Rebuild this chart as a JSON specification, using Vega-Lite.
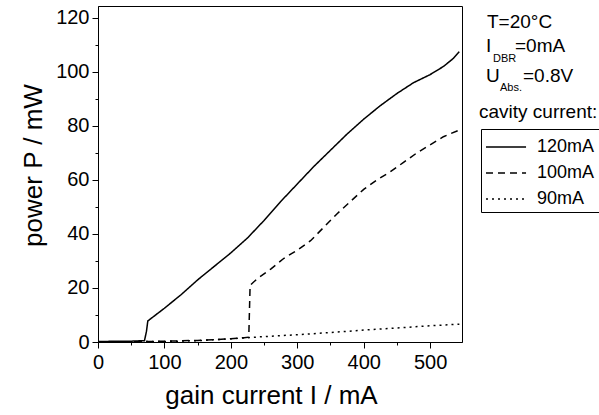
{
  "$schema": "https://vega.github.io/schema/vega-lite/v6.json",
  "autosize": "none",
  "width": 364,
  "height": 336,
  "padding": {"left": 98, "top": 6, "right": 137, "bottom": 73},
  "background": "white",
  "config": {
    "view": {"stroke": "black", "strokeWidth": 1},
    "font": "Liberation Sans",
    "axis": {"domainColor": "black", "tickColor": "black", "labelColor": "black", "titleColor": "black", "grid": false, "labelFont": "Liberation Sans", "titleFont": "Liberation Sans", "titleFontWeight": "normal", "labelFlush": false, "labelOverlap": false}
  },
  "datasets": {
    "curves": [
      {"I": 0, "P": 0.2, "cav": "120mA"},
      {"I": 50, "P": 0.3, "cav": "120mA"},
      {"I": 70, "P": 0.5, "cav": "120mA"},
      {"I": 73, "P": 4, "cav": "120mA"},
      {"I": 75, "P": 7.8, "cav": "120mA"},
      {"I": 100, "P": 12.5, "cav": "120mA"},
      {"I": 125, "P": 17.5, "cav": "120mA"},
      {"I": 150, "P": 23, "cav": "120mA"},
      {"I": 175, "P": 28, "cav": "120mA"},
      {"I": 200, "P": 33, "cav": "120mA"},
      {"I": 225, "P": 38.5, "cav": "120mA"},
      {"I": 250, "P": 45, "cav": "120mA"},
      {"I": 275, "P": 52, "cav": "120mA"},
      {"I": 300, "P": 58.5, "cav": "120mA"},
      {"I": 325, "P": 65, "cav": "120mA"},
      {"I": 350, "P": 71, "cav": "120mA"},
      {"I": 375, "P": 77, "cav": "120mA"},
      {"I": 400, "P": 82.5, "cav": "120mA"},
      {"I": 425, "P": 87.5, "cav": "120mA"},
      {"I": 450, "P": 92, "cav": "120mA"},
      {"I": 475, "P": 96, "cav": "120mA"},
      {"I": 500, "P": 99, "cav": "120mA"},
      {"I": 520, "P": 102, "cav": "120mA"},
      {"I": 535, "P": 105, "cav": "120mA"},
      {"I": 544, "P": 107.5, "cav": "120mA"},
      {"I": 0, "P": 0, "cav": "100mA"},
      {"I": 50, "P": 0.1, "cav": "100mA"},
      {"I": 100, "P": 0.3, "cav": "100mA"},
      {"I": 150, "P": 0.6, "cav": "100mA"},
      {"I": 200, "P": 1.2, "cav": "100mA"},
      {"I": 220, "P": 1.6, "cav": "100mA"},
      {"I": 227, "P": 1.8, "cav": "100mA"},
      {"I": 229, "P": 21, "cav": "100mA"},
      {"I": 240, "P": 23.5, "cav": "100mA"},
      {"I": 260, "P": 27, "cav": "100mA"},
      {"I": 280, "P": 31, "cav": "100mA"},
      {"I": 300, "P": 34, "cav": "100mA"},
      {"I": 320, "P": 37.5, "cav": "100mA"},
      {"I": 340, "P": 42.5, "cav": "100mA"},
      {"I": 360, "P": 47.5, "cav": "100mA"},
      {"I": 380, "P": 52, "cav": "100mA"},
      {"I": 400, "P": 56.5, "cav": "100mA"},
      {"I": 420, "P": 60, "cav": "100mA"},
      {"I": 440, "P": 63, "cav": "100mA"},
      {"I": 460, "P": 66.5, "cav": "100mA"},
      {"I": 480, "P": 70, "cav": "100mA"},
      {"I": 500, "P": 73, "cav": "100mA"},
      {"I": 520, "P": 76, "cav": "100mA"},
      {"I": 544, "P": 78.5, "cav": "100mA"},
      {"I": 0, "P": 0, "cav": "90mA"},
      {"I": 100, "P": 0.2, "cav": "90mA"},
      {"I": 150, "P": 0.5, "cav": "90mA"},
      {"I": 200, "P": 1.2, "cav": "90mA"},
      {"I": 250, "P": 2, "cav": "90mA"},
      {"I": 300, "P": 2.7, "cav": "90mA"},
      {"I": 350, "P": 3.5, "cav": "90mA"},
      {"I": 400, "P": 4.4, "cav": "90mA"},
      {"I": 450, "P": 5.2, "cav": "90mA"},
      {"I": 500, "P": 6, "cav": "90mA"},
      {"I": 544, "P": 6.6, "cav": "90mA"}
    ]
  },
  "layer": [
    {
      "data": {"name": "curves"},
      "mark": {"type": "line", "color": "black", "strokeWidth": 1.5, "clip": true},
      "encoding": {
        "x": {"field": "I", "type": "quantitative", "scale": {"domain": [0, 548], "nice": false, "zero": false},
          "axis": {"values": [0, 100, 200, 300, 400, 500], "title": "gain current I / mA", "titleFontSize": 26, "labelFontSize": 20, "tickSize": 6, "labelPadding": 4, "titleX": 173, "titleY": 61, "titleBaseline": "alphabetic", "titleAlign": "center", "orient": "bottom"}},
        "y": {"field": "P", "type": "quantitative", "scale": {"domain": [0, 124.4], "nice": false, "zero": false},
          "axis": {"values": [0, 20, 40, 60, 80, 100, 120], "title": "power P / mW", "titleFontSize": 26, "labelFontSize": 20, "tickSize": 6, "labelPadding": 3, "titleX": -57, "titleY": 159, "titleBaseline": "alphabetic", "titleAngle": -90, "titleAlign": "center", "orient": "left"}},
        "strokeDash": {"field": "cav", "type": "nominal",
          "scale": {"domain": ["120mA", "100mA", "90mA"], "range": [[1, 0], [7, 5], [2, 4]]},
          "legend": {"title": null, "orient": "none", "legendX": 383, "legendY": 123, "symbolType": "M-1,0H2.08", "symbolSize": 676, "symbolStrokeWidth": 1.5, "symbolStrokeColor": "black", "labelFontSize": 18, "labelColor": "black", "labelOffset": 24, "strokeColor": "black", "padding": 4, "rowPadding": 3}},
        "detail": {"field": "cav"}
      }
    },
    {
      "data": {"name": "curves"},
      "mark": {"type": "line", "strokeOpacity": 0},
      "encoding": {
        "x": {"field": "I", "type": "quantitative", "axis": {"values": [50, 150, 250, 350, 450, 550], "labels": false, "domain": false, "title": null, "tickSize": 3, "orient": "bottom"}},
        "y": {"field": "P", "type": "quantitative", "axis": {"values": [10, 30, 50, 70, 90, 110], "labels": false, "domain": false, "title": null, "tickSize": 3, "orient": "left"}}
      }
    },
    {
      "data": {"values": [{"label": "T=20°C"}]},
      "mark": {"type": "text", "align": "left", "baseline": "alphabetic", "fontSize": 19, "color": "black"},
      "encoding": {"text": {"field": "label"}, "x": {"datum": 585.6, "type": "quantitative", "axis": null}, "y": {"datum": 116.1, "type": "quantitative", "axis": null}}
    },
    {
      "data": {"values": [{"label": "I"}]},
      "mark": {"type": "text", "align": "left", "baseline": "alphabetic", "fontSize": 19, "color": "black"},
      "encoding": {"text": {"field": "label"}, "x": {"datum": 584, "type": "quantitative", "axis": null}, "y": {"datum": 107.4, "type": "quantitative", "axis": null}}
    },
    {
      "data": {"values": [{"label": "DBR"}]},
      "mark": {"type": "text", "align": "left", "baseline": "alphabetic", "fontSize": 11, "color": "black"},
      "encoding": {"text": {"field": "label"}, "x": {"datum": 594.7, "type": "quantitative", "axis": null}, "y": {"datum": 103.7, "type": "quantitative", "axis": null}}
    },
    {
      "data": {"values": [{"label": "=0mA"}]},
      "mark": {"type": "text", "align": "left", "baseline": "alphabetic", "fontSize": 19, "color": "black"},
      "encoding": {"text": {"field": "label"}, "x": {"datum": 627.8, "type": "quantitative", "axis": null}, "y": {"datum": 107.4, "type": "quantitative", "axis": null}}
    },
    {
      "data": {"values": [{"label": "U"}]},
      "mark": {"type": "text", "align": "left", "baseline": "alphabetic", "fontSize": 19, "color": "black"},
      "encoding": {"text": {"field": "label"}, "x": {"datum": 584, "type": "quantitative", "axis": null}, "y": {"datum": 96.3, "type": "quantitative", "axis": null}}
    },
    {
      "data": {"values": [{"label": "Abs."}]},
      "mark": {"type": "text", "align": "left", "baseline": "alphabetic", "fontSize": 11, "color": "black"},
      "encoding": {"text": {"field": "label"}, "x": {"datum": 605.2, "type": "quantitative", "axis": null}, "y": {"datum": 92.9, "type": "quantitative", "axis": null}}
    },
    {
      "data": {"values": [{"label": "=0.8V"}]},
      "mark": {"type": "text", "align": "left", "baseline": "alphabetic", "fontSize": 19, "color": "black"},
      "encoding": {"text": {"field": "label"}, "x": {"datum": 639.8, "type": "quantitative", "axis": null}, "y": {"datum": 96.3, "type": "quantitative", "axis": null}}
    },
    {
      "data": {"values": [{"label": "cavity current:"}]},
      "mark": {"type": "text", "align": "left", "baseline": "alphabetic", "fontSize": 19, "color": "black"},
      "encoding": {"text": {"field": "label"}, "x": {"datum": 573.6, "type": "quantitative", "axis": null}, "y": {"datum": 82.9, "type": "quantitative", "axis": null}}
    }
  ],
  "resolve": {"axis": {"x": "independent", "y": "independent"}}
}
